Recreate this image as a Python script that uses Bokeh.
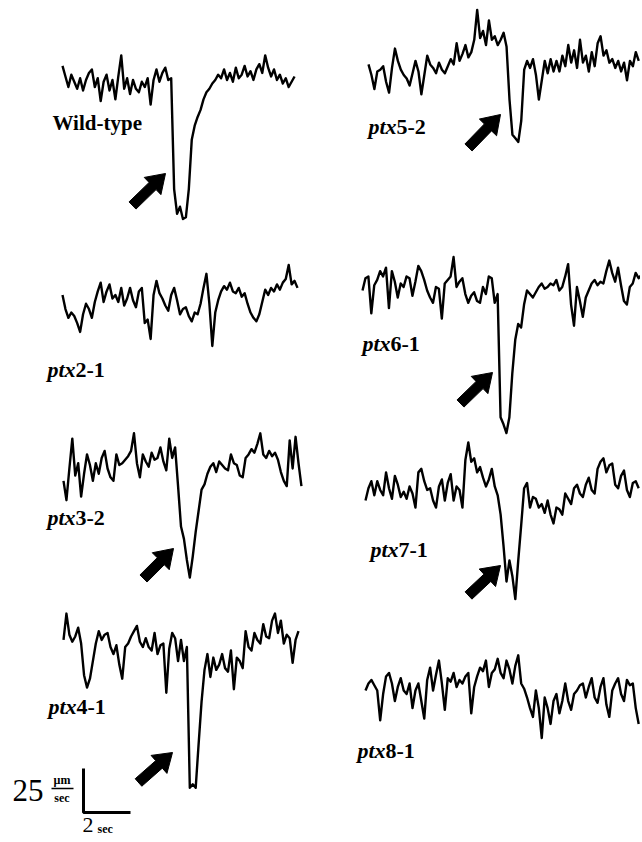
import numpy as np
from bokeh.plotting import figure
from bokeh.models import Range1d
from bokeh.embed import file_html
from bokeh.resources import INLINE
from bokeh.core.properties import value

# ---------------- data (velocity traces, um/sec, sampled every DT sec) ----------------
DT = 0.125
SCALE_V = 25   # um/sec
SCALE_T = 2    # sec

wild_type = [10, 4, -2, 5, 1, -3, 3, -4, 2, 6, 8, -2, 3, -10, 1, 5, -4, 2, -9, 4,
             16, -3, 3, -6, 2, -3, -5, 1, -2, 3, -12, 2, 8, 1, 6, 9, 2, 3,
             -60, -74, -70, -77, -76, -60, -32, -24, -19, -15, -9, -5, -3, 0,
             2, 5, 3, 8, 2, 6, 1, 9, 3, 5, 10, 4, 7, 2, 8, 11, 6, 16, 9, 4,
             8, 2, 5, 0, 3, -2, 1, 4]

ptx2_1 = [6, -2, -7, -4, -6, -10, -15, -5, 1, -2, -7, 2, 8, 13, 2, 8, 12, 4, 6, 2,
          10, 0, 4, 10, 3, -1, 8, 10, -10, -8, -19, 6, 14, 7, 4, 0, -3, 6, 10, 3,
          -5, -2, -1, -6, -9, -4, -5, 1, 10, 18, 1, -23, -4, 3, 8, 11, 9, 13, 8, 7,
          10, 5, 7, 1, -4, -7, -9, -5, 2, 9, 6, 10, 8, 12, 9, 13, 15, 23, 12, 14, 10]

ptx3_2 = [-7, -18, 0, 17, -4, 3, -16, -3, 8, 2, -7, 3, -3, 6, 10, 0, -5, -7, 8, 2,
          3, 5, 7, 10, 20, 3, -5, 8, 4, 1, 9, 5, 6, 12, 4, -1, 17, 6, 12, -10,
          -33, -40, -52, -62, -50, -36, -24, -12, -9, -3, 1, 3, -2, 4, 2, 0, -1, 8, 3, 2,
          -4, -5, 6, 8, 11, 9, 14, 20, 8, 6, 10, 7, 9, 5, -2, -7, -10, 16, 0, 18, 3, -10]

ptx4_1 = [2, 17, 5, 1, 4, 9, 0, -18, -25, -20, -10, 0, 7, 2, 5, 6, -2, -6, -1, -12,
          -20, -2, 0, 4, 7, 10, 1, -2, 3, -2, -4, 6, -6, -1, 0, -28, -3, 6, 3, -10,
          2, -10, -2, -82, -80, -82, -57, -33, -15, -6, -19, -8, -15, -12, -6, -14, -16, -4, -26, -8,
          -10, -14, 7, -2, -4, 6, 2, 0, 11, 4, 3, 13, 17, 6, 13, 0, 5, 3, -11, 2, 7]

ptx5_2 = [8, 2, -6, 4, 5, 7, -2, -8, 6, 17, 10, 5, 2, 0, -4, 3, 10, 4, -9, 2,
          13, 8, 6, 3, 9, 5, 3, 7, 11, 8, 20, 10, 14, 19, 12, 15, 22, 39, 23, 27,
          19, 33, 22, 24, 19, 22, 26, 18, -12, -32, -34, -36, -24, 5, 10, 6, 11, 2, -12, -1,
          10, 3, 11, 4, 10, 4, 13, 7, 19, 9, 16, 6, 22, 9, 13, 4, 15, 7, 20, 24,
          13, 16, 9, 11, 6, 10, 4, 9, -1, 10, 7, 15, 10]

ptx6_1 = [0, 7, 8, -13, 3, 6, 11, 8, 13, -10, 11, 5, -4, 4, 2, 8, 7, -3, 5, 14,
          11, 6, 0, -4, -7, 2, 1, -16, 4, 6, 8, 19, 2, 5, 7, -2, -7, -3, -1, -6,
          -7, 2, -2, 8, 7, -7, -2, -72, -76, -81, -72, -47, -28, -19, -21, -8, 0, -2, -4, -1,
          2, 4, 1, 2, 4, 3, 6, 0, 2, 8, 15, -8, -20, 2, -6, -15, -4, 0, 4, 6,
          3, 5, 4, 11, 17, 10, 5, 13, 3, -6, -8, 2, 4, 10, 7, 9]

ptx7_1 = [-4, 3, 7, -1, 7, 2, -1, 12, 3, -3, 10, 5, -2, 1, -3, 4, 0, -8, 12, 14,
          7, 2, 3, -4, -8, 4, 8, -4, 6, 11, -4, 4, 2, -8, 19, 29, 18, 20, 12, 15,
          9, 4, 8, 14, 4, -1, -12, -30, -50, -38, -47, -60, -38, -18, 3, 6, -8, -2, -3, -8,
          -6, -11, -4, -12, -17, -8, -9, -12, 0, -3, -6, 3, 5, 0, -2, 5, 9, 2, 0, 14,
          18, 20, 12, 16, 17, 5, 3, 10, 13, 2, -2, 6, 7, 3]

ptx8_1 = [0, 4, 6, 3, 0, -17, -2, 8, 10, 4, -6, 2, 7, 0, -2, 4, -10, 0, 4, -6,
          -16, 6, 13, 0, 9, 17, 4, -11, 7, 5, 10, 2, 6, 4, 8, 10, -13, 2, 8, 13,
          11, 17, 2, 10, 12, 18, 10, 7, 17, 12, 4, 14, 20, 4, 1, -4, -10, -15, 0, -10,
          -27, -4, -10, -19, -6, -2, -13, -6, 4, -6, -11, -2, 0, 3, 4, -4, 2, 7, -4, -7,
          2, 7, -8, -15, 0, 4, 7, -2, -6, 6, 3, 4, -10, -19]

traces = [wild_type, ptx2_1, ptx3_2, ptx4_1, ptx5_2, ptx6_1, ptx7_1, ptx8_1]
label_prefix = ["", "ptx", "ptx", "ptx", "ptx", "ptx", "ptx", "ptx"]
label_suffix = ["Wild-type", "2-1", "3-2", "4-1", "5-2", "6-1", "7-1", "8-1"]

# ---------------- layout (page pixels) ----------------
W, H = 640, 840
PXS = 23.5   # px per second
PXU = 1.76   # px per um/sec


def X(px):
    return px / PXS


def Y(py):
    return (H - py) / PXU


trace_origin = [(62, 83), (62, 305), (63, 468), (63, 643),
                (368, 78), (362, 290), (365, 493), (365, 690)]
label_pos = [(52, 122), (47, 369), (47, 517), (48, 706),
             (368, 126), (362, 343), (370, 549), (357, 750)]
arrows = [((132, 205), (165, 173)), ((468, 147), (500, 114)), ((460, 403), (492, 372)),
          ((143, 578), (173, 548)), ((468, 595), (500, 565)), ((138, 782), (172, 752))]

p = figure(width=W, height=H, output_backend="svg", toolbar_location=None,
           x_range=Range1d(0, W / PXS), y_range=Range1d(0, H / PXU),
           min_border=0, min_border_left=0, min_border_right=0,
           min_border_top=0, min_border_bottom=0)
p.xaxis.visible = False
p.yaxis.visible = False
p.grid.visible = False
p.outline_line_color = None
p.background_fill_color = "white"
p.border_fill_color = "white"

for vals, (ox, oy) in zip(traces, trace_origin):
    v = np.array(vals, dtype=float)
    t = np.arange(len(v)) * DT
    p.line(X(ox) + t, Y(oy) + v, line_color="black", line_width=2.4, line_join="round")

FONT = value("Liberation Serif")
for pre, suf, (lx, ly) in zip(label_prefix, label_suffix, label_pos):
    if pre:
        p.text(x=[X(lx)], y=[Y(ly)], text=[pre], text_font=FONT, text_font_size="22px",
               text_font_style="bold italic", text_baseline="middle", text_align="left",
               text_color="black")
        p.text(x=[X(lx)], y=[Y(ly)], text=[suf], text_font=FONT, text_font_size="22px",
               text_font_style="bold", text_baseline="middle", text_align="left",
               text_color="black", x_offset=28)
    else:
        p.text(x=[X(lx)], y=[Y(ly)], text=[suf], text_font=FONT, text_font_size="21px",
               text_font_style="bold", text_baseline="middle", text_align="left",
               text_color="black")

# arrows as filled polygons
SW, HW, HL = 5.0, 12.0, 18.0
xs_all, ys_all = [], []
for (tx, ty), (hx, hy) in arrows:
    dx, dy = hx - tx, hy - ty
    L = (dx * dx + dy * dy) ** 0.5
    ux, uy = dx / L, dy / L
    nx, ny = -uy, ux
    kx, ky = hx - ux * HL, hy - uy * HL
    pts = [(tx + nx * SW, ty + ny * SW), (kx + nx * SW, ky + ny * SW), (kx + nx * HW, ky + ny * HW),
           (hx, hy), (kx - nx * HW, ky - ny * HW), (kx - nx * SW, ky - ny * SW),
           (tx - nx * SW, ty - ny * SW)]
    xs_all.append([X(a) for a, b in pts])
    ys_all.append([Y(b) for a, b in pts])
p.patches(xs_all, ys_all, fill_color="black", line_color="black", line_width=1)

# scale bar
bx, by = 83, 812
p.line([X(bx), X(bx), X(bx) + SCALE_T], [Y(by) + SCALE_V, Y(by), Y(by)],
       line_color="black", line_width=3)
p.text(x=[X(12)], y=[Y(790)], text=[str(SCALE_V)], text_font=FONT, text_font_size="31px",
       text_baseline="middle", text_align="left", text_color="black")
p.text(x=[X(61.5)], y=[Y(779)], text=["µm"], text_font=FONT, text_font_size="12px",
       text_font_style="bold", text_baseline="middle", text_align="center", text_color="black")
p.line([X(51), X(73)], [Y(788), Y(788)], line_color="black", line_width=1.5)
p.text(x=[X(61.5)], y=[Y(797)], text=["sec"], text_font=FONT, text_font_size="12px",
       text_font_style="bold", text_baseline="middle", text_align="center", text_color="black")
p.text(x=[X(82)], y=[Y(824)], text=[str(SCALE_T)], text_font=FONT, text_font_size="22px",
       text_baseline="middle", text_align="left", text_color="black")
p.text(x=[X(97)], y=[Y(828)], text=["sec"], text_font=FONT, text_font_size="12px",
       text_font_style="bold", text_baseline="middle", text_align="left", text_color="black")

open("out.html", "w").write(file_html(p, INLINE))
